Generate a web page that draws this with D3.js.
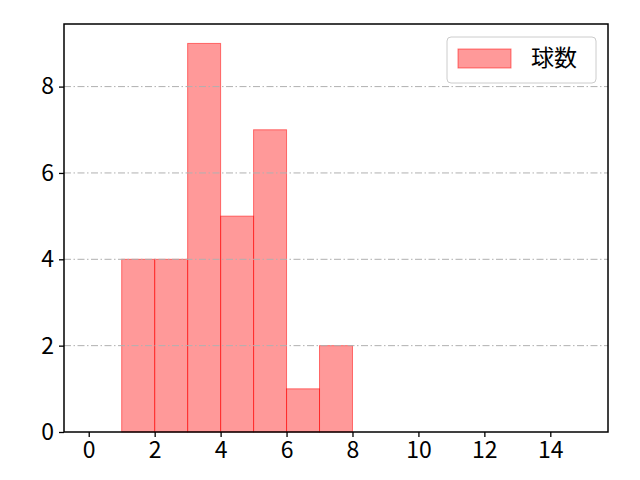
<!DOCTYPE html>
<html>
<head>
<meta charset="utf-8">
<script src="https://cdn.jsdelivr.net/npm/d3@7"></script>
<style>
  body { margin: 0; background: #fff; }
  text { font-family: "Noto Sans CJK JP", "Noto Sans", sans-serif; }
</style>
</head>
<body>
<div id="container"></div>
<script>
// histogram bins (left edge, right edge) and counts
var binStart = [1, 2, 3, 4, 5, 6, 7];
var binEnd   = [2, 3, 4, 5, 6, 7, 8];
var counts   = [4, 4, 9, 5, 7, 1, 2];
var xTicks = [0, 2, 4, 6, 8, 10, 12, 14];
var yTicks = [0, 2, 4, 6, 8];
var seriesName = "球数";

var width = 640, height = 480;
var plotL = 64, plotR = 608, plotT = 24, plotB = 432;

var svg = d3.select("#container").append("svg")
    .attr("width", width)
    .attr("height", height);

var x = d3.scaleLinear().domain([-0.75, 15.75]).range([plotL, plotR]);
var y = d3.scaleLinear().domain([0, 9.45]).range([plotB, plotT]);

var bins = counts.map(function(c, i) { return { x0: binStart[i], x1: binEnd[i], n: c }; });

// bars
svg.append("g").selectAll("rect")
    .data(bins)
    .enter()
    .append("rect")
    .attr("x", function(d) { return x(d.x0); })
    .attr("y", function(d) { return y(d.n); })
    .attr("width", function(d) { return x(d.x1) - x(d.x0); })
    .attr("height", function(d) { return y(0) - y(d.n); })
    .attr("fill", "#ff0000")
    .attr("fill-opacity", 0.4)
    .attr("stroke", "#ff0000")
    .attr("stroke-opacity", 0.5)
    .attr("stroke-width", 1);

// horizontal grid, over the bars
svg.append("g").selectAll("line")
    .data(yTicks.filter(function(t) { return t > 0; }))
    .enter()
    .append("line")
    .attr("x1", plotL).attr("x2", plotR)
    .attr("y1", function(d) { return y(d); })
    .attr("y2", function(d) { return y(d); })
    .attr("stroke", "#b0b0b0")
    .attr("stroke-width", 1)
    .attr("stroke-dasharray", "7,2.5,1.5,2.5");

// axes
var xAxis = d3.axisBottom(x).tickValues(xTicks).tickSize(5).tickPadding(5);
var yAxis = d3.axisLeft(y).tickValues(yTicks).tickSize(5).tickPadding(5);

var gx = svg.append("g").attr("transform", "translate(0," + plotB + ")").call(xAxis);
var gy = svg.append("g").attr("transform", "translate(" + plotL + ",0)").call(yAxis);

[gx, gy].forEach(function(g) {
  g.select(".domain").remove();
  g.selectAll(".tick line").attr("stroke", "#000").attr("stroke-width", 1.3);
  g.selectAll(".tick text")
    .attr("fill", "#000")
    .style("font-size", "23px")
    .style("font-family", "'Noto Sans CJK JP', 'Noto Sans', sans-serif");
});

// frame
svg.append("rect")
    .attr("x", plotL).attr("y", plotT)
    .attr("width", plotR - plotL).attr("height", plotB - plotT)
    .attr("fill", "none")
    .attr("stroke", "#000")
    .attr("stroke-width", 1.5);

// legend
var lg = svg.append("g");
lg.append("rect")
    .attr("x", 447).attr("y", 37)
    .attr("width", 149).attr("height", 46)
    .attr("rx", 4)
    .attr("fill", "#fff")
    .attr("fill-opacity", 0.8)
    .attr("stroke", "#cccccc");
lg.append("rect")
    .attr("x", 458).attr("y", 49)
    .attr("width", 53).attr("height", 19)
    .attr("fill", "#ff0000")
    .attr("fill-opacity", 0.4)
    .attr("stroke", "#ff0000")
    .attr("stroke-opacity", 0.5);
lg.append("text")
    .attr("x", 531).attr("y", 66)
    .attr("font-size", "23px")
    .attr("fill", "#000")
    .text(seriesName);
</script>
</body>
</html>
